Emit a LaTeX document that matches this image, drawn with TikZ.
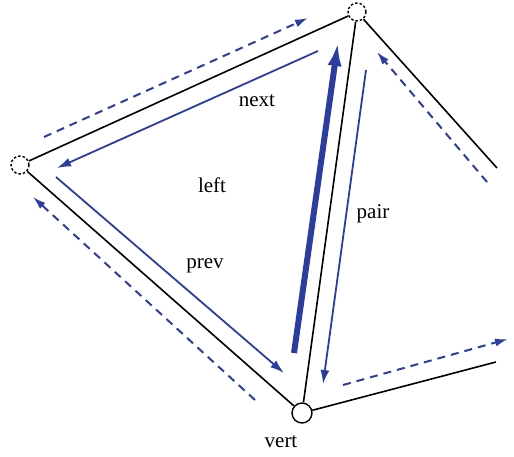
\documentclass[tikz,border=0pt]{standalone}
\usepackage{fontspec}
\setmainfont{Liberation Serif}
\usetikzlibrary{arrows.meta}
\definecolor{hblue}{RGB}{43,62,160}
\begin{document}
\begin{tikzpicture}[x=1pt,y=-1pt,
  vtx/.style={circle,draw,line width=1.4pt,minimum size=18pt,inner sep=0pt,fill=white},
  vdash/.style={vtx,dash pattern=on 2.5pt off 2pt},
  edge/.style={line width=1.6pt,black},
  half/.style={hblue,line width=1.8pt,-{Latex[length=14pt,width=9pt]}},
  twin/.style={hblue,line width=2pt,dash pattern=on 8pt off 6pt,-{Latex[length=13pt,width=8pt]}},
  thick arrow/.style={hblue,line width=6pt,-{Latex[length=24pt,width=14pt]}},
  lbl/.style={font=\fontsize{21}{24}\selectfont,inner sep=0pt}]
\useasboundingbox (0,0) rectangle (514,457);
% vertices
\node[vdash] (T) at (357,12) {};
\node[vdash] (L) at (20,165) {};
\node[vtx,minimum size=20pt] (B) at (302,413) {};
\coordinate (R1) at (497,168);
\coordinate (R2) at (496,362);
% edges
\draw[edge] (L) -- (T);
\draw[edge] (L) -- (B);
\draw[edge] (B) -- (T);
\draw[edge] (T) -- (R1);
\draw[edge] (B) -- (R2);
% half-edge arrows
\coordinate (n1) at (318,51);  \coordinate (n2) at (57,168);
\coordinate (p1) at (56,177);  \coordinate (p2) at (284,373);
\coordinate (h1) at (294,353); \coordinate (h2) at (338,42);
\coordinate (q1) at (366,70);  \coordinate (q2) at (323,384);
\draw[half] (n1) -- (n2);
\draw[half] (p1) -- (p2);
\draw[half] (q1) -- (q2);
\draw[thick arrow] (h1) -- (h2);
% dashed arrows
\coordinate (d1a) at (44,137);  \coordinate (d1b) at (308,18);
\coordinate (d2a) at (255,400); \coordinate (d2b) at (33,197);
\coordinate (d3a) at (487,182); \coordinate (d3b) at (377,52);
\coordinate (d4a) at (343,385); \coordinate (d4b) at (508,339);
\draw[twin] (d1a) -- (d1b);
\draw[twin] (d2a) -- (d2b);
\draw[twin] (d3a) -- (d3b);
\draw[twin] (d4a) -- (d4b);
% labels
\node[lbl] (tnext) at (257,101) {next};
\node[lbl] (tleft) at (212,185) {left};
\node[lbl] (tprev) at (205,266) {prev};
\node[lbl] (tpair) at (373,214) {pair};
\node[lbl] (tvert) at (281,442) {vert};
\end{tikzpicture}
\end{document}
